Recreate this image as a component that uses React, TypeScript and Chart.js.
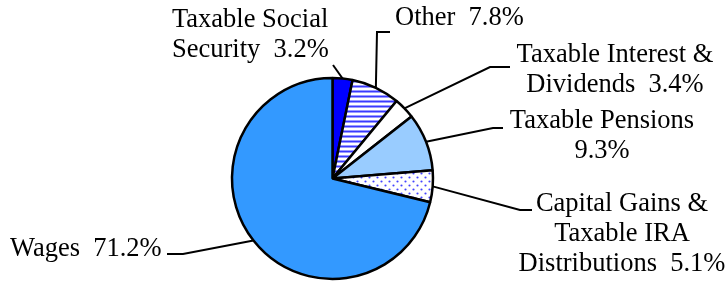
import React, { useEffect, useRef } from "react";
import { Chart, registerables } from "chart.js";

Chart.register(...registerables);

const categories = [
  "Taxable Social Security",
  "Other",
  "Taxable Interest & Dividends",
  "Taxable Pensions",
  "Capital Gains & Taxable IRA Distributions",
  "Wages",
];
const shares = [3.2, 7.8, 3.4, 9.3, 5.1, 71.2];
const labelLines: string[][] = [
  ["Taxable Social", "Security  3.2%"],
  ["Other  7.8%"],
  ["Taxable Interest &", "Dividends  3.4%"],
  ["Taxable Pensions", "9.3%"],
  ["Capital Gains &", "Taxable IRA", "Distributions  5.1%"],
  ["Wages  71.2%"],
];

// layout of labels (positions only)
const labelLayout = [
  { x: 172, y: 27, align: "left", leader: [[333, 65]] },
  { x: 395, y: 25, align: "left", leader: [[377, 32], [390, 32]] },
  { x: 615, y: 62, align: "center", leader: [[490, 67], [510, 67]] },
  { x: 602, y: 128, align: "center", leader: [[493, 128], [503, 128]] },
  { x: 622, y: 211, align: "center", leader: [[520, 210], [532, 210]] },
  { x: 10, y: 256, align: "left", leader: [[183, 254], [167, 254]] },
];

function stripePattern(): CanvasPattern | string {
  const c = document.createElement("canvas");
  c.width = 8;
  c.height = 5;
  const g = c.getContext("2d")!;
  g.fillStyle = "#ffffff";
  g.fillRect(0, 0, 8, 5);
  g.fillStyle = "#3a3aff";
  g.fillRect(0, 1, 8, 1);
  g.fillStyle = "#9a9aff";
  g.fillRect(0, 0, 8, 1);
  g.fillRect(0, 2, 8, 1);
  return g.createPattern(c, "repeat") || "#ffffff";
}

function dotPattern(): CanvasPattern | string {
  const c = document.createElement("canvas");
  c.width = 8;
  c.height = 8;
  const g = c.getContext("2d")!;
  g.fillStyle = "#ffffff";
  g.fillRect(0, 0, 8, 8);
  g.fillStyle = "#4444ff";
  g.beginPath();
  g.arc(1.5, 1.5, 1.1, 0, Math.PI * 2);
  g.arc(5.5, 5.5, 1.1, 0, Math.PI * 2);
  g.fill();
  return g.createPattern(c, "repeat") || "#ffffff";
}

const labelPlugin = {
  id: "pieLabels",
  afterDraw(chart: any) {
    const ctx = chart.ctx as CanvasRenderingContext2D;
    const meta = chart.getDatasetMeta(0);
    ctx.save();
    ctx.strokeStyle = "#000000";
    ctx.lineWidth = 2;
    ctx.fillStyle = "#000000";
    ctx.font = '26.5px "Liberation Serif", "Times New Roman", serif';
    ctx.textBaseline = "alphabetic";
    meta.data.forEach((arc: any, i: number) => {
      const p = arc.getProps(["x", "y", "startAngle", "endAngle", "outerRadius"], true);
      const mid = (p.startAngle + p.endAngle) / 2;
      const sx = p.x + Math.cos(mid) * p.outerRadius;
      const sy = p.y + Math.sin(mid) * p.outerRadius;
      const lay = labelLayout[i];
      ctx.beginPath();
      ctx.moveTo(sx, sy);
      lay.leader.forEach((pt) => ctx.lineTo(pt[0], pt[1]));
      ctx.stroke();
      ctx.textAlign = lay.align as CanvasTextAlign;
      labelLines[i].forEach((line, j) => {
        ctx.fillText(line, lay.x, lay.y + j * 30);
      });
    });
    ctx.restore();
  },
};

export default function App() {
  const ref = useRef<HTMLCanvasElement | null>(null);
  useEffect(() => {
    if (!ref.current) return;
    const colors = ["#0000ff", stripePattern(), "#ffffff", "#99ccff", dotPattern(), "#3399ff"];
    const chart = new Chart(ref.current, {
      type: "pie",
      data: {
        labels: categories,
        datasets: [
          {
            data: shares,
            backgroundColor: colors as any,
            borderColor: "#000000",
            borderWidth: 2.5,
            radius: 100.5,
          } as any,
        ],
      },
      options: {
        responsive: false,
        animation: false,
        devicePixelRatio: 1,
        layout: { padding: { left: 227.5, right: 290.5, top: 73.5, bottom: 0.5 } },
        plugins: {
          legend: { display: false },
          tooltip: { enabled: false },
        },
      },
      plugins: [labelPlugin],
    });
    return () => chart.destroy();
  }, []);
  return (
    <div style={{ position: "absolute", left: 0, top: 0, width: 728, height: 284, background: "#ffffff" }}>
      <canvas ref={ref} width={728} height={284} />
    </div>
  );
}
